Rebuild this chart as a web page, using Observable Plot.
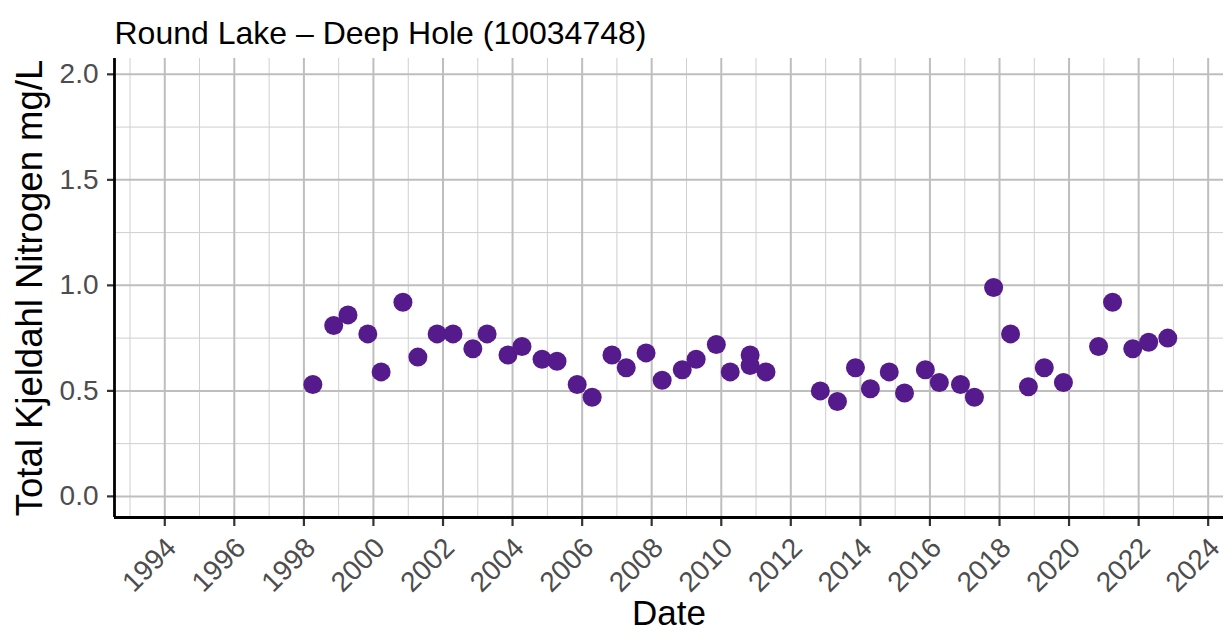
<!DOCTYPE html>
<html>
<head>
<meta charset="utf-8">
<script src="https://cdn.jsdelivr.net/npm/d3@7"></script>
<script src="https://cdn.jsdelivr.net/npm/@observablehq/plot@0.6"></script>
<style>
  html, body { margin: 0; padding: 0; background: #fff; }
  svg { display: block; }
</style>
</head>
<body>
<div id="chart"></div>
<script>
const titleText = "Round Lake – Deep Hole (10034748)";
const xLabel = "Date";
const yLabel = "Total Kjeldahl Nitrogen mg/L";

const sampleDates = [
  "1998-04-05","1998-11-10","1999-04-09","1999-11-03","2000-03-22","2000-11-06",
  "2001-04-12","2001-10-31","2002-04-16","2002-11-10","2003-04-09","2003-11-14",
  "2004-04-09","2004-11-06","2005-04-12","2005-11-10","2006-04-16","2006-11-10",
  "2007-04-09","2007-11-03","2008-04-20","2008-11-17","2009-04-12","2009-11-10",
  "2010-04-05","2010-10-31","2010-10-31","2011-04-16","2012-11-06","2013-05-05",
  "2013-11-10","2014-04-16","2014-10-31","2015-04-09","2015-11-14","2016-04-09",
  "2016-11-17","2017-04-12","2017-10-31","2018-04-27","2018-10-31","2019-04-16",
  "2019-11-03","2020-11-06","2021-04-02","2021-10-31","2022-04-16","2022-11-03"
];
const tknValues = [
  0.53,0.81,0.86,0.77,0.59,0.92,
  0.66,0.77,0.77,0.70,0.77,0.67,
  0.71,0.65,0.64,0.53,0.47,0.67,
  0.61,0.68,0.55,0.60,0.65,0.72,
  0.59,0.67,0.62,0.59,0.50,0.45,
  0.61,0.51,0.59,0.49,0.60,0.54,
  0.53,0.47,0.99,0.77,0.52,0.61,
  0.54,0.71,0.92,0.70,0.73,0.75
];

const xMajorYears = [1994,1996,1998,2000,2002,2004,2006,2008,2010,2012,2014,2016,2018,2020,2022,2024];
const xMinorYears = [1993,1995,1997,1999,2001,2003,2005,2007,2009,2011,2013,2015,2017,2019,2021,2023];
const yMajorTicks = [0, 0.5, 1.0, 1.5, 2.0];
const yMinorTicks = [0.25, 0.75, 1.25, 1.75];
const xDomain = ["1992-07-22", "2024-06-10"];
const yDomain = [-0.1, 2.075];

const parse = d3.utcParse("%Y-%m-%d");
const yr = y => new Date(Date.UTC(y, 0, 1));
const data = sampleDates.map((d, i) => ({date: parse(d), value: tknValues[i]}));
const xMajor = xMajorYears.map(yr);
const xMinor = xMinorYears.map(yr);
const xMin = parse(xDomain[0]);
const fmtYear = d3.utcFormat("%Y");
const fmtY = d3.format(".1f");
const xTickData = xMajor.map(d => ({date: d, label: fmtYear(d), base: yDomain[0]}));
const yTickData = yMajorTicks.map(v => ({value: v, label: fmtY(v), base: xMin}));

const font = "'Liberation Sans', Arial, Helvetica, sans-serif";

const plot = Plot.plot({
  width: 1231,
  height: 643,
  marginTop: 58,
  marginLeft: 114,
  marginRight: 8,
  marginBottom: 126,
  style: {fontFamily: font, background: "#ffffff", overflow: "visible"},
  x: {type: "utc", domain: xDomain.map(parse), axis: null},
  y: {domain: yDomain, axis: null},
  marks: [
    Plot.ruleX(xMinor, {stroke: "#cfcfcf", strokeWidth: 1}),
    Plot.ruleY(yMinorTicks, {stroke: "#cfcfcf", strokeWidth: 1}),
    Plot.ruleX(xMajor, {stroke: "#bebebe", strokeWidth: 2}),
    Plot.ruleY(yMajorTicks, {stroke: "#bebebe", strokeWidth: 2}),
    Plot.dot(data, {x: "date", y: "value", r: 9.5, fill: "#551A8B", stroke: "none"}),
    // tick marks
    Plot.ruleX(xTickData, {x: "date", y1: "base", y2: "base", insetBottom: -9, stroke: "#333", strokeWidth: 2.2}),
    Plot.ruleY(yTickData, {y: "value", x1: "base", x2: "base", insetLeft: -7, stroke: "#333", strokeWidth: 2.2}),
    // axis lines
    Plot.ruleX([xMin], {stroke: "#000", strokeWidth: 2.8}),
    Plot.ruleY([yDomain[0]], {stroke: "#000", strokeWidth: 2.8}),
    // tick labels
    Plot.text(xTickData, {
      x: "date", y: "base", text: "label",
      rotate: -45, textAnchor: "end", lineAnchor: "top", dx: -1, dy: 18,
      fontSize: 28, fill: "#4d4d4d"
    }),
    Plot.text(yTickData, {
      x: "base", y: "value", text: "label",
      textAnchor: "end", dx: -16, fontSize: 28, fill: "#4d4d4d"
    }),
    Plot.text([xLabel], {frameAnchor: "bottom", textAnchor: "middle", dy: 107, fontSize: 35, fill: "#000", text: d => d}),
    Plot.text([yLabel], {frameAnchor: "left", textAnchor: "middle", dx: -84, rotate: -90, fontSize: 36.5, fill: "#000", text: d => d}),
    Plot.text([titleText], {frameAnchor: "top-left", textAnchor: "start", dx: 0, dy: -37, fontSize: 32, fill: "#000", text: d => d})
  ]
});
document.getElementById("chart").appendChild(plot);
</script>
</body>
</html>
